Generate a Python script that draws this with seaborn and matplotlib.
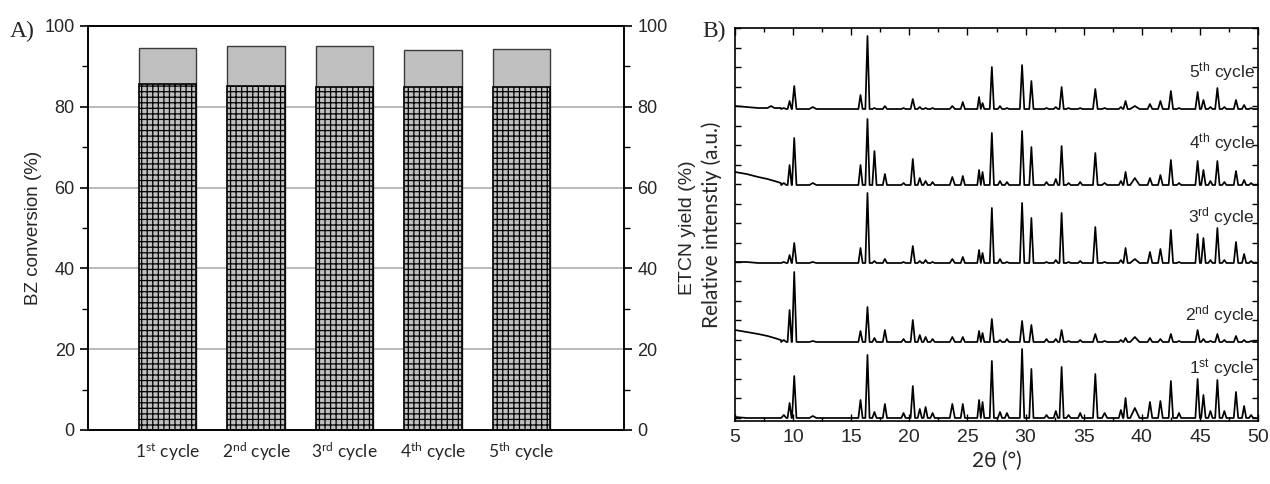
import numpy as np
import pandas as pd
import matplotlib
matplotlib.use("Agg")
import matplotlib.pyplot as plt
import seaborn as sns
from matplotlib.ticker import MultipleLocator, NullFormatter

# ---------------- Panel A data ----------------
cycle_labels = ["1$^{st}$ cycle", "2$^{nd}$ cycle", "3$^{rd}$ cycle",
                "4$^{th}$ cycle", "5$^{th}$ cycle"]
bz_conversion = [94.6, 95.1, 95.0, 94.0, 94.3]
etcn_yield = [85.6, 85.1, 85.0, 84.9, 84.8]

# ---------------- Panel B data ----------------
xrd_cycles = ["1st", "2nd", "3rd", "4th", "5th"]
xrd_labels = ["1$^{st}$ cycle", "2$^{nd}$ cycle", "3$^{rd}$ cycle",
              "4$^{th}$ cycle", "5$^{th}$ cycle"]
xrd_offset = [0, 76, 155, 233, 309]

peak_pos = [9.2, 9.7, 10.1, 11.7, 15.8, 16.4, 17.0, 17.9, 19.5, 20.3, 20.9,
            21.4, 22.0, 23.7, 24.6, 26.0, 26.3, 27.1, 27.8, 28.4, 29.7, 30.5,
            31.8, 32.6, 33.1, 33.7, 34.7, 36.0, 36.8, 38.2, 38.6, 39.4, 40.7,
            41.6, 42.5, 43.2, 44.8, 45.3, 45.9, 46.5, 47.1, 48.1, 48.8, 49.4]
peak_hw = [0.22, 0.17, 0.19, 0.30, 0.18, 0.18, 0.18, 0.18, 0.18, 0.19, 0.18,
           0.18, 0.18, 0.22, 0.18, 0.15, 0.15, 0.18, 0.18, 0.18, 0.19, 0.18,
           0.18, 0.18, 0.18, 0.18, 0.18, 0.20, 0.22, 0.18, 0.18, 0.40, 0.20,
           0.20, 0.19, 0.18, 0.19, 0.19, 0.18, 0.19, 0.18, 0.19, 0.18, 0.18]

peak_height_1st = [3, 15, 42, 2, 18, 63, 6, 14, 5, 32, 9, 11, 5, 14, 14, 18,
                   16, 57, 6, 5, 69, 49, 3, 7, 51, 3, 5, 44, 5, 8, 20, 10, 16,
                   17, 37, 5, 39, 23, 7, 38, 7, 26, 12, 3]
peak_height_2nd = [2, 32, 70, 1, 11, 35, 4, 12, 3, 22, 7, 5, 3, 5, 5, 11, 9,
                   23, 2, 3, 21, 17, 3, 3, 12, 1, 2, 8, 1, 2, 4, 5, 4, 3, 8,
                   1, 12, 3, 1, 8, 2, 6, 2, 1]
peak_height_3rd = [1, 8, 20, 1, 15, 70, 2, 4, 1, 17, 2, 3, 1, 4, 6, 13, 10,
                   55, 4, 1, 60, 45, 1, 3, 50, 1, 2, 36, 1, 3, 15, 4, 11, 14,
                   33, 1, 29, 25, 3, 35, 3, 21, 9, 2]
peak_height_4th = [2, 20, 47, 2, 20, 66, 34, 11, 2, 26, 7, 4, 3, 8, 9, 15, 13,
                   52, 4, 3, 54, 38, 3, 6, 39, 2, 3, 32, 2, 4, 13, 7, 7, 10,
                   25, 2, 24, 15, 4, 24, 3, 14, 5, 2]
peak_height_5th = [1, 8, 23, 2, 14, 73, 1, 3, 1, 10, 2, 1, 1, 3, 7, 12, 6,
                   42, 3, 1, 44, 28, 1, 2, 22, 1, 1, 20, 1, 2, 8, 3, 5, 8, 18,
                   1, 17, 9, 2, 21, 2, 9, 4, 1]

# low-angle background before the first reflection
lead_two_theta = [5.0, 6.0, 7.0, 7.8, 8.1, 8.4, 8.95]
lead_1st = [1, 0, 0, 0, 0, 0, 0]
lead_2nd = [12, 10, 8, 6, 5, 4, 2]
lead_3rd = [1, 1, 0, 0, 0, 0, 0]
lead_4th = [13, 11, 8, 6, 5, 4, 2]
lead_5th = [3, 2, 1, 1, 3, 1, 1]

peak_heights = [peak_height_1st, peak_height_2nd, peak_height_3rd,
                peak_height_4th, peak_height_5th]
leads = [lead_1st, lead_2nd, lead_3rd, lead_4th, lead_5th]

# ---------------- Style ----------------
sns.set_theme(style="white")
plt.rcParams["font.family"] = ["Liberation Sans", "DejaVu Sans"]
plt.rcParams["mathtext.default"] = "regular"
plt.rcParams["hatch.linewidth"] = 0.9
plt.rcParams["hatch.color"] = "black"

fig = plt.figure(figsize=(12.7, 4.84), dpi=100)
axA = fig.add_axes([0.0693, 0.1116, 0.4220, 0.8347])
axB = fig.add_axes([0.5787, 0.1302, 0.4119, 0.8119])

# ---------------- Panel A ----------------
dfA = pd.DataFrame({"cycle": cycle_labels, "bz": bz_conversion,
                    "etcn": etcn_yield})
for y in [20, 40, 60, 80]:
    axA.axhline(y, color="#b4b4b4", lw=1.3, zorder=0)
sns.barplot(data=dfA, x="cycle", y="bz", color="#c0c0c0", saturation=1,
            width=0.65, edgecolor="#3c3c3c", linewidth=1.0, ax=axA, zorder=2)
sns.barplot(data=dfA, x="cycle", y="etcn", color="#c0c0c0", saturation=1,
            width=0.65, edgecolor="black", linewidth=1.2, ax=axA, zorder=3)
for patch in axA.containers[1]:
    patch.set_hatch("+++")
axA.set_xlim(-0.9, 5.16)
axA.set_ylim(0, 100)
axA.set_xlabel("")
axA.set_ylabel("BZ conversion (%)", fontsize=13.5, labelpad=2)
axA.yaxis.set_major_locator(MultipleLocator(20))
axA.yaxis.set_minor_locator(MultipleLocator(10))
axA.tick_params(axis="y", which="major", direction="out", length=6, width=1.2,
                labelsize=13, left=True, color="black")
axA.tick_params(axis="y", which="minor", direction="out", length=4, width=1.0,
                left=True, color="black")
axA.tick_params(axis="x", length=0, pad=8)
for lab in axA.get_xticklabels():
    lab.set_fontfamily(["Lato", "DejaVu Sans"])
    lab.set_fontsize(12.5)
for s in axA.spines.values():
    s.set_color("black")
    s.set_linewidth(1.2)

axA2 = axA.twinx()
axA2.set_ylim(0, 100)
axA2.yaxis.set_major_locator(MultipleLocator(20))
axA2.yaxis.set_minor_locator(MultipleLocator(10))
axA2.tick_params(axis="y", which="major", direction="out", length=6, width=1.2,
                 labelsize=13, right=True, color="black")
axA2.tick_params(axis="y", which="minor", direction="out", length=4, width=1.0,
                 right=True, color="black")
axA2.set_ylabel("ETCN yield (%)", fontsize=14, labelpad=8)
for s in axA2.spines.values():
    s.set_color("black")
    s.set_linewidth(1.2)

# ---------------- Panel B ----------------
rows = []
for name, off, heights, lead in zip(xrd_cycles, xrd_offset, peak_heights, leads):
    k = 0
    for t, v in zip(lead_two_theta, lead):
        rows.append((name, k, t, off + v)); k += 1
    for p, hw, h in zip(peak_pos, peak_hw, heights):
        rows.append((name, k, p - hw, off)); k += 1
        rows.append((name, k, p, off + h)); k += 1
        rows.append((name, k, p + hw, off)); k += 1
    rows.append((name, k, 50.0, off))
dfB = pd.DataFrame(rows, columns=["cycle", "order", "two_theta", "intensity"])
sns.lineplot(data=dfB, x="two_theta", y="intensity", units="cycle",
             estimator=None, sort=False, color="black", lw=1.25, ax=axB)

axB.set_xlim(5, 50)
axB.set_ylim(-3, 390)
axB.xaxis.set_major_locator(MultipleLocator(5))
axB.xaxis.set_minor_locator(MultipleLocator(2.5))
axB.yaxis.set_major_locator(MultipleLocator(19.5))
axB.yaxis.set_major_formatter(NullFormatter())
axB.tick_params(axis="both", which="both", direction="in", top=True,
                right=True, left=True, bottom=True, color="black")
axB.tick_params(axis="both", which="major", length=4, width=1.0)
axB.tick_params(axis="x", which="major", labelsize=14, length=5, pad=6)
axB.tick_params(axis="x", which="minor", length=3, width=1.0)
axB.set_xlabel("2θ (°)", fontsize=15, family=["Lato", "DejaVu Sans"],
               labelpad=3)
axB.set_ylabel("Relative intenstiy (a.u.)", fontsize=15,
               family=["Lato", "DejaVu Sans"], labelpad=6)
for s in axB.spines.values():
    s.set_color("black")
    s.set_linewidth(1.2)

label_rise = [49, 27, 46, 42, 37]
for lab, off, rise in zip(xrd_labels, xrd_offset, label_rise):
    axB.text(49.7, off + rise, lab, ha="right", va="center", fontsize=12.5)

fig.text(0.008, 0.935, "A)", family="Liberation Serif", fontsize=17,
         va="center", ha="left")
fig.text(0.553, 0.935, "B)", family="Liberation Serif", fontsize=17,
         va="center", ha="left")

fig.savefig("out.png", dpi=100)
